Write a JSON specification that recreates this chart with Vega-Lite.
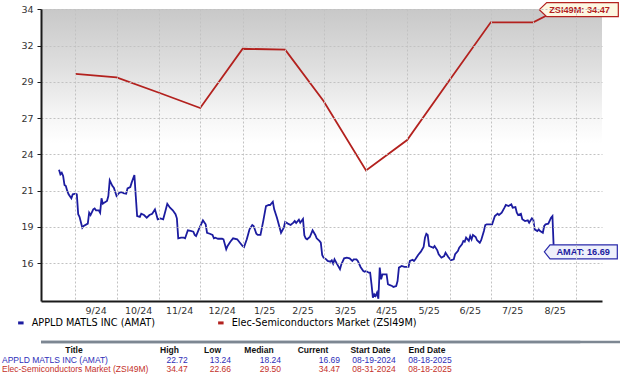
{
  "$schema": "https://vega.github.io/schema/vega-lite/v6.json",
  "background": "white",
  "padding": {"left": 0, "right": 0, "top": 0, "bottom": 0},
  "spacing": 11,
  "resolve": {"scale": {"color": "independent"}, "legend": {"color": "independent"}},
  "config": {
    "view": {"stroke": null},
    "font": "DejaVu Sans",
    "axis": {"labelFont": "DejaVu Sans", "labelFontSize": 9.5, "labelColor": "#333333", "gridColor": "#c2c2c2", "gridDash": [2, 2], "gridWidth": 1, "domainColor": "#1a1a1a", "domainWidth": 2, "tickColor": "#1a1a1a"},
    "legend": {"labelFont": "DejaVu Sans", "labelFontSize": 9.7, "labelLimit": 400},
    "text": {"font": "Liberation Sans", "fontSize": 8.5}
  },
  "datasets": {
    "prices": [
      {"series": "APPLD MATLS INC (AMAT)", "date": "2024-08-19", "value": 22.72},
      {"series": "APPLD MATLS INC (AMAT)", "date": "2024-08-20", "value": 22.38},
      {"series": "APPLD MATLS INC (AMAT)", "date": "2024-08-21", "value": 22.5},
      {"series": "APPLD MATLS INC (AMAT)", "date": "2024-08-22", "value": 22.26},
      {"series": "APPLD MATLS INC (AMAT)", "date": "2024-08-23", "value": 21.6},
      {"series": "APPLD MATLS INC (AMAT)", "date": "2024-08-24", "value": 21.52},
      {"series": "APPLD MATLS INC (AMAT)", "date": "2024-08-25", "value": 21.16},
      {"series": "APPLD MATLS INC (AMAT)", "date": "2024-08-26", "value": 20.91},
      {"series": "APPLD MATLS INC (AMAT)", "date": "2024-08-28", "value": 20.62},
      {"series": "APPLD MATLS INC (AMAT)", "date": "2024-08-29", "value": 20.91},
      {"series": "APPLD MATLS INC (AMAT)", "date": "2024-08-31", "value": 20.96},
      {"series": "APPLD MATLS INC (AMAT)", "date": "2024-09-01", "value": 20.91},
      {"series": "APPLD MATLS INC (AMAT)", "date": "2024-09-02", "value": 19.45},
      {"series": "APPLD MATLS INC (AMAT)", "date": "2024-09-03", "value": 19.25},
      {"series": "APPLD MATLS INC (AMAT)", "date": "2024-09-05", "value": 18.46},
      {"series": "APPLD MATLS INC (AMAT)", "date": "2024-09-06", "value": 18.59},
      {"series": "APPLD MATLS INC (AMAT)", "date": "2024-09-09", "value": 18.76},
      {"series": "APPLD MATLS INC (AMAT)", "date": "2024-09-10", "value": 19.56},
      {"series": "APPLD MATLS INC (AMAT)", "date": "2024-09-11", "value": 19.39},
      {"series": "APPLD MATLS INC (AMAT)", "date": "2024-09-13", "value": 19.81},
      {"series": "APPLD MATLS INC (AMAT)", "date": "2024-09-14", "value": 19.88},
      {"series": "APPLD MATLS INC (AMAT)", "date": "2024-09-15", "value": 19.74},
      {"series": "APPLD MATLS INC (AMAT)", "date": "2024-09-17", "value": 19.74},
      {"series": "APPLD MATLS INC (AMAT)", "date": "2024-09-18", "value": 19.56},
      {"series": "APPLD MATLS INC (AMAT)", "date": "2024-09-19", "value": 20.62},
      {"series": "APPLD MATLS INC (AMAT)", "date": "2024-09-20", "value": 20.22},
      {"series": "APPLD MATLS INC (AMAT)", "date": "2024-09-21", "value": 20.3},
      {"series": "APPLD MATLS INC (AMAT)", "date": "2024-09-23", "value": 20.42},
      {"series": "APPLD MATLS INC (AMAT)", "date": "2024-09-24", "value": 20.79},
      {"series": "APPLD MATLS INC (AMAT)", "date": "2024-09-25", "value": 21.94},
      {"series": "APPLD MATLS INC (AMAT)", "date": "2024-09-27", "value": 21.52},
      {"series": "APPLD MATLS INC (AMAT)", "date": "2024-09-28", "value": 21.4},
      {"series": "APPLD MATLS INC (AMAT)", "date": "2024-09-30", "value": 20.79},
      {"series": "APPLD MATLS INC (AMAT)", "date": "2024-10-02", "value": 21.03},
      {"series": "APPLD MATLS INC (AMAT)", "date": "2024-10-04", "value": 21.08},
      {"series": "APPLD MATLS INC (AMAT)", "date": "2024-10-05", "value": 20.99},
      {"series": "APPLD MATLS INC (AMAT)", "date": "2024-10-07", "value": 20.96},
      {"series": "APPLD MATLS INC (AMAT)", "date": "2024-10-08", "value": 21.35},
      {"series": "APPLD MATLS INC (AMAT)", "date": "2024-10-10", "value": 21.45},
      {"series": "APPLD MATLS INC (AMAT)", "date": "2024-10-11", "value": 21.77},
      {"series": "APPLD MATLS INC (AMAT)", "date": "2024-10-13", "value": 22.33},
      {"series": "APPLD MATLS INC (AMAT)", "date": "2024-10-14", "value": 20.79},
      {"series": "APPLD MATLS INC (AMAT)", "date": "2024-10-15", "value": 19.32},
      {"series": "APPLD MATLS INC (AMAT)", "date": "2024-10-17", "value": 19.25},
      {"series": "APPLD MATLS INC (AMAT)", "date": "2024-10-18", "value": 19.49},
      {"series": "APPLD MATLS INC (AMAT)", "date": "2024-10-20", "value": 19.39},
      {"series": "APPLD MATLS INC (AMAT)", "date": "2024-10-22", "value": 19.2},
      {"series": "APPLD MATLS INC (AMAT)", "date": "2024-10-24", "value": 19.39},
      {"series": "APPLD MATLS INC (AMAT)", "date": "2024-10-26", "value": 19.49},
      {"series": "APPLD MATLS INC (AMAT)", "date": "2024-10-28", "value": 19.81},
      {"series": "APPLD MATLS INC (AMAT)", "date": "2024-10-29", "value": 19.45},
      {"series": "APPLD MATLS INC (AMAT)", "date": "2024-10-30", "value": 19.08},
      {"series": "APPLD MATLS INC (AMAT)", "date": "2024-11-01", "value": 19.15},
      {"series": "APPLD MATLS INC (AMAT)", "date": "2024-11-03", "value": 19.08},
      {"series": "APPLD MATLS INC (AMAT)", "date": "2024-11-04", "value": 19.45},
      {"series": "APPLD MATLS INC (AMAT)", "date": "2024-11-06", "value": 20.22},
      {"series": "APPLD MATLS INC (AMAT)", "date": "2024-11-08", "value": 19.93},
      {"series": "APPLD MATLS INC (AMAT)", "date": "2024-11-10", "value": 19.74},
      {"series": "APPLD MATLS INC (AMAT)", "date": "2024-11-12", "value": 19.45},
      {"series": "APPLD MATLS INC (AMAT)", "date": "2024-11-13", "value": 19.15},
      {"series": "APPLD MATLS INC (AMAT)", "date": "2024-11-14", "value": 17.68},
      {"series": "APPLD MATLS INC (AMAT)", "date": "2024-11-16", "value": 17.73},
      {"series": "APPLD MATLS INC (AMAT)", "date": "2024-11-18", "value": 17.73},
      {"series": "APPLD MATLS INC (AMAT)", "date": "2024-11-19", "value": 17.68},
      {"series": "APPLD MATLS INC (AMAT)", "date": "2024-11-21", "value": 18.27},
      {"series": "APPLD MATLS INC (AMAT)", "date": "2024-11-23", "value": 18.22},
      {"series": "APPLD MATLS INC (AMAT)", "date": "2024-11-25", "value": 18.17},
      {"series": "APPLD MATLS INC (AMAT)", "date": "2024-11-26", "value": 17.93},
      {"series": "APPLD MATLS INC (AMAT)", "date": "2024-11-27", "value": 17.85},
      {"series": "APPLD MATLS INC (AMAT)", "date": "2024-11-29", "value": 18.34},
      {"series": "APPLD MATLS INC (AMAT)", "date": "2024-12-02", "value": 19.0},
      {"series": "APPLD MATLS INC (AMAT)", "date": "2024-12-04", "value": 18.71},
      {"series": "APPLD MATLS INC (AMAT)", "date": "2024-12-05", "value": 18.09},
      {"series": "APPLD MATLS INC (AMAT)", "date": "2024-12-07", "value": 18.02},
      {"series": "APPLD MATLS INC (AMAT)", "date": "2024-12-09", "value": 17.93},
      {"series": "APPLD MATLS INC (AMAT)", "date": "2024-12-10", "value": 17.68},
      {"series": "APPLD MATLS INC (AMAT)", "date": "2024-12-11", "value": 17.73},
      {"series": "APPLD MATLS INC (AMAT)", "date": "2024-12-13", "value": 17.65},
      {"series": "APPLD MATLS INC (AMAT)", "date": "2024-12-16", "value": 17.65},
      {"series": "APPLD MATLS INC (AMAT)", "date": "2024-12-17", "value": 17.61},
      {"series": "APPLD MATLS INC (AMAT)", "date": "2024-12-19", "value": 16.88},
      {"series": "APPLD MATLS INC (AMAT)", "date": "2024-12-20", "value": 17.12},
      {"series": "APPLD MATLS INC (AMAT)", "date": "2024-12-22", "value": 17.43},
      {"series": "APPLD MATLS INC (AMAT)", "date": "2024-12-24", "value": 17.68},
      {"series": "APPLD MATLS INC (AMAT)", "date": "2024-12-27", "value": 17.61},
      {"series": "APPLD MATLS INC (AMAT)", "date": "2024-12-29", "value": 17.36},
      {"series": "APPLD MATLS INC (AMAT)", "date": "2024-12-31", "value": 17.12},
      {"series": "APPLD MATLS INC (AMAT)", "date": "2025-01-01", "value": 17.04},
      {"series": "APPLD MATLS INC (AMAT)", "date": "2025-01-03", "value": 17.61},
      {"series": "APPLD MATLS INC (AMAT)", "date": "2025-01-05", "value": 18.34},
      {"series": "APPLD MATLS INC (AMAT)", "date": "2025-01-07", "value": 18.66},
      {"series": "APPLD MATLS INC (AMAT)", "date": "2025-01-08", "value": 18.59},
      {"series": "APPLD MATLS INC (AMAT)", "date": "2025-01-10", "value": 18.02},
      {"series": "APPLD MATLS INC (AMAT)", "date": "2025-01-11", "value": 17.93},
      {"series": "APPLD MATLS INC (AMAT)", "date": "2025-01-13", "value": 17.93},
      {"series": "APPLD MATLS INC (AMAT)", "date": "2025-01-15", "value": 18.95},
      {"series": "APPLD MATLS INC (AMAT)", "date": "2025-01-17", "value": 20.05},
      {"series": "APPLD MATLS INC (AMAT)", "date": "2025-01-19", "value": 20.13},
      {"series": "APPLD MATLS INC (AMAT)", "date": "2025-01-20", "value": 20.13},
      {"series": "APPLD MATLS INC (AMAT)", "date": "2025-01-22", "value": 20.37},
      {"series": "APPLD MATLS INC (AMAT)", "date": "2025-01-23", "value": 19.81},
      {"series": "APPLD MATLS INC (AMAT)", "date": "2025-01-25", "value": 19.2},
      {"series": "APPLD MATLS INC (AMAT)", "date": "2025-01-28", "value": 18.09},
      {"series": "APPLD MATLS INC (AMAT)", "date": "2025-01-30", "value": 18.46},
      {"series": "APPLD MATLS INC (AMAT)", "date": "2025-01-31", "value": 18.88},
      {"series": "APPLD MATLS INC (AMAT)", "date": "2025-02-02", "value": 18.76},
      {"series": "APPLD MATLS INC (AMAT)", "date": "2025-02-04", "value": 18.66},
      {"series": "APPLD MATLS INC (AMAT)", "date": "2025-02-06", "value": 18.83},
      {"series": "APPLD MATLS INC (AMAT)", "date": "2025-02-07", "value": 18.95},
      {"series": "APPLD MATLS INC (AMAT)", "date": "2025-02-08", "value": 18.81},
      {"series": "APPLD MATLS INC (AMAT)", "date": "2025-02-10", "value": 19.05},
      {"series": "APPLD MATLS INC (AMAT)", "date": "2025-02-11", "value": 18.83},
      {"series": "APPLD MATLS INC (AMAT)", "date": "2025-02-13", "value": 19.1},
      {"series": "APPLD MATLS INC (AMAT)", "date": "2025-02-14", "value": 17.9},
      {"series": "APPLD MATLS INC (AMAT)", "date": "2025-02-15", "value": 17.68},
      {"series": "APPLD MATLS INC (AMAT)", "date": "2025-02-16", "value": 17.61},
      {"series": "APPLD MATLS INC (AMAT)", "date": "2025-02-18", "value": 17.78},
      {"series": "APPLD MATLS INC (AMAT)", "date": "2025-02-20", "value": 18.27},
      {"series": "APPLD MATLS INC (AMAT)", "date": "2025-02-22", "value": 17.93},
      {"series": "APPLD MATLS INC (AMAT)", "date": "2025-02-23", "value": 17.68},
      {"series": "APPLD MATLS INC (AMAT)", "date": "2025-02-25", "value": 17.49},
      {"series": "APPLD MATLS INC (AMAT)", "date": "2025-02-26", "value": 17.36},
      {"series": "APPLD MATLS INC (AMAT)", "date": "2025-02-27", "value": 16.46},
      {"series": "APPLD MATLS INC (AMAT)", "date": "2025-02-28", "value": 16.26},
      {"series": "APPLD MATLS INC (AMAT)", "date": "2025-03-02", "value": 16.14},
      {"series": "APPLD MATLS INC (AMAT)", "date": "2025-03-03", "value": 16.02},
      {"series": "APPLD MATLS INC (AMAT)", "date": "2025-03-05", "value": 15.97},
      {"series": "APPLD MATLS INC (AMAT)", "date": "2025-03-06", "value": 16.07},
      {"series": "APPLD MATLS INC (AMAT)", "date": "2025-03-07", "value": 15.82},
      {"series": "APPLD MATLS INC (AMAT)", "date": "2025-03-08", "value": 16.14},
      {"series": "APPLD MATLS INC (AMAT)", "date": "2025-03-10", "value": 15.77},
      {"series": "APPLD MATLS INC (AMAT)", "date": "2025-03-12", "value": 15.41},
      {"series": "APPLD MATLS INC (AMAT)", "date": "2025-03-13", "value": 15.77},
      {"series": "APPLD MATLS INC (AMAT)", "date": "2025-03-15", "value": 16.21},
      {"series": "APPLD MATLS INC (AMAT)", "date": "2025-03-17", "value": 16.26},
      {"series": "APPLD MATLS INC (AMAT)", "date": "2025-03-19", "value": 16.21},
      {"series": "APPLD MATLS INC (AMAT)", "date": "2025-03-21", "value": 16.02},
      {"series": "APPLD MATLS INC (AMAT)", "date": "2025-03-22", "value": 16.14},
      {"series": "APPLD MATLS INC (AMAT)", "date": "2025-03-24", "value": 16.14},
      {"series": "APPLD MATLS INC (AMAT)", "date": "2025-03-25", "value": 16.02},
      {"series": "APPLD MATLS INC (AMAT)", "date": "2025-03-27", "value": 15.58},
      {"series": "APPLD MATLS INC (AMAT)", "date": "2025-03-29", "value": 15.28},
      {"series": "APPLD MATLS INC (AMAT)", "date": "2025-03-30", "value": 15.23},
      {"series": "APPLD MATLS INC (AMAT)", "date": "2025-03-31", "value": 15.28},
      {"series": "APPLD MATLS INC (AMAT)", "date": "2025-04-02", "value": 15.16},
      {"series": "APPLD MATLS INC (AMAT)", "date": "2025-04-03", "value": 15.16},
      {"series": "APPLD MATLS INC (AMAT)", "date": "2025-04-04", "value": 14.31},
      {"series": "APPLD MATLS INC (AMAT)", "date": "2025-04-05", "value": 13.32},
      {"series": "APPLD MATLS INC (AMAT)", "date": "2025-04-06", "value": 13.57},
      {"series": "APPLD MATLS INC (AMAT)", "date": "2025-04-07", "value": 13.45},
      {"series": "APPLD MATLS INC (AMAT)", "date": "2025-04-08", "value": 13.69},
      {"series": "APPLD MATLS INC (AMAT)", "date": "2025-04-09", "value": 13.24},
      {"series": "APPLD MATLS INC (AMAT)", "date": "2025-04-10", "value": 15.53},
      {"series": "APPLD MATLS INC (AMAT)", "date": "2025-04-11", "value": 14.67},
      {"series": "APPLD MATLS INC (AMAT)", "date": "2025-04-12", "value": 15.04},
      {"series": "APPLD MATLS INC (AMAT)", "date": "2025-04-13", "value": 15.04},
      {"series": "APPLD MATLS INC (AMAT)", "date": "2025-04-15", "value": 15.04},
      {"series": "APPLD MATLS INC (AMAT)", "date": "2025-04-16", "value": 14.31},
      {"series": "APPLD MATLS INC (AMAT)", "date": "2025-04-17", "value": 14.26},
      {"series": "APPLD MATLS INC (AMAT)", "date": "2025-04-19", "value": 14.18},
      {"series": "APPLD MATLS INC (AMAT)", "date": "2025-04-20", "value": 14.11},
      {"series": "APPLD MATLS INC (AMAT)", "date": "2025-04-22", "value": 14.18},
      {"series": "APPLD MATLS INC (AMAT)", "date": "2025-04-23", "value": 14.55},
      {"series": "APPLD MATLS INC (AMAT)", "date": "2025-04-24", "value": 15.53},
      {"series": "APPLD MATLS INC (AMAT)", "date": "2025-04-26", "value": 15.65},
      {"series": "APPLD MATLS INC (AMAT)", "date": "2025-04-28", "value": 15.58},
      {"series": "APPLD MATLS INC (AMAT)", "date": "2025-04-30", "value": 15.58},
      {"series": "APPLD MATLS INC (AMAT)", "date": "2025-05-01", "value": 15.58},
      {"series": "APPLD MATLS INC (AMAT)", "date": "2025-05-02", "value": 16.02},
      {"series": "APPLD MATLS INC (AMAT)", "date": "2025-05-04", "value": 16.11},
      {"series": "APPLD MATLS INC (AMAT)", "date": "2025-05-05", "value": 16.02},
      {"series": "APPLD MATLS INC (AMAT)", "date": "2025-05-06", "value": 16.14},
      {"series": "APPLD MATLS INC (AMAT)", "date": "2025-05-08", "value": 16.46},
      {"series": "APPLD MATLS INC (AMAT)", "date": "2025-05-10", "value": 16.7},
      {"series": "APPLD MATLS INC (AMAT)", "date": "2025-05-12", "value": 17.04},
      {"series": "APPLD MATLS INC (AMAT)", "date": "2025-05-13", "value": 17.73},
      {"series": "APPLD MATLS INC (AMAT)", "date": "2025-05-14", "value": 18.02},
      {"series": "APPLD MATLS INC (AMAT)", "date": "2025-05-15", "value": 17.93},
      {"series": "APPLD MATLS INC (AMAT)", "date": "2025-05-16", "value": 17.12},
      {"series": "APPLD MATLS INC (AMAT)", "date": "2025-05-18", "value": 17.04},
      {"series": "APPLD MATLS INC (AMAT)", "date": "2025-05-19", "value": 16.99},
      {"series": "APPLD MATLS INC (AMAT)", "date": "2025-05-20", "value": 17.12},
      {"series": "APPLD MATLS INC (AMAT)", "date": "2025-05-22", "value": 16.8},
      {"series": "APPLD MATLS INC (AMAT)", "date": "2025-05-23", "value": 16.51},
      {"series": "APPLD MATLS INC (AMAT)", "date": "2025-05-25", "value": 16.26},
      {"series": "APPLD MATLS INC (AMAT)", "date": "2025-05-27", "value": 16.38},
      {"series": "APPLD MATLS INC (AMAT)", "date": "2025-05-28", "value": 16.63},
      {"series": "APPLD MATLS INC (AMAT)", "date": "2025-05-30", "value": 16.31},
      {"series": "APPLD MATLS INC (AMAT)", "date": "2025-06-01", "value": 16.07},
      {"series": "APPLD MATLS INC (AMAT)", "date": "2025-06-03", "value": 16.14},
      {"series": "APPLD MATLS INC (AMAT)", "date": "2025-06-04", "value": 16.51},
      {"series": "APPLD MATLS INC (AMAT)", "date": "2025-06-06", "value": 16.75},
      {"series": "APPLD MATLS INC (AMAT)", "date": "2025-06-07", "value": 16.99},
      {"series": "APPLD MATLS INC (AMAT)", "date": "2025-06-09", "value": 17.24},
      {"series": "APPLD MATLS INC (AMAT)", "date": "2025-06-10", "value": 17.49},
      {"series": "APPLD MATLS INC (AMAT)", "date": "2025-06-11", "value": 17.43},
      {"series": "APPLD MATLS INC (AMAT)", "date": "2025-06-12", "value": 17.73},
      {"series": "APPLD MATLS INC (AMAT)", "date": "2025-06-14", "value": 17.49},
      {"series": "APPLD MATLS INC (AMAT)", "date": "2025-06-15", "value": 17.85},
      {"series": "APPLD MATLS INC (AMAT)", "date": "2025-06-16", "value": 17.61},
      {"series": "APPLD MATLS INC (AMAT)", "date": "2025-06-17", "value": 17.93},
      {"series": "APPLD MATLS INC (AMAT)", "date": "2025-06-19", "value": 17.78},
      {"series": "APPLD MATLS INC (AMAT)", "date": "2025-06-20", "value": 17.54},
      {"series": "APPLD MATLS INC (AMAT)", "date": "2025-06-22", "value": 17.36},
      {"series": "APPLD MATLS INC (AMAT)", "date": "2025-06-23", "value": 17.54},
      {"series": "APPLD MATLS INC (AMAT)", "date": "2025-06-25", "value": 18.22},
      {"series": "APPLD MATLS INC (AMAT)", "date": "2025-06-26", "value": 18.66},
      {"series": "APPLD MATLS INC (AMAT)", "date": "2025-06-27", "value": 18.71},
      {"series": "APPLD MATLS INC (AMAT)", "date": "2025-06-30", "value": 18.71},
      {"series": "APPLD MATLS INC (AMAT)", "date": "2025-07-01", "value": 18.71},
      {"series": "APPLD MATLS INC (AMAT)", "date": "2025-07-03", "value": 19.32},
      {"series": "APPLD MATLS INC (AMAT)", "date": "2025-07-05", "value": 19.49},
      {"series": "APPLD MATLS INC (AMAT)", "date": "2025-07-06", "value": 19.39},
      {"series": "APPLD MATLS INC (AMAT)", "date": "2025-07-08", "value": 19.56},
      {"series": "APPLD MATLS INC (AMAT)", "date": "2025-07-10", "value": 19.93},
      {"series": "APPLD MATLS INC (AMAT)", "date": "2025-07-11", "value": 20.13},
      {"series": "APPLD MATLS INC (AMAT)", "date": "2025-07-13", "value": 20.05},
      {"series": "APPLD MATLS INC (AMAT)", "date": "2025-07-15", "value": 20.18},
      {"series": "APPLD MATLS INC (AMAT)", "date": "2025-07-16", "value": 19.93},
      {"series": "APPLD MATLS INC (AMAT)", "date": "2025-07-18", "value": 19.98},
      {"series": "APPLD MATLS INC (AMAT)", "date": "2025-07-19", "value": 19.56},
      {"series": "APPLD MATLS INC (AMAT)", "date": "2025-07-20", "value": 19.39},
      {"series": "APPLD MATLS INC (AMAT)", "date": "2025-07-22", "value": 19.49},
      {"series": "APPLD MATLS INC (AMAT)", "date": "2025-07-23", "value": 19.08},
      {"series": "APPLD MATLS INC (AMAT)", "date": "2025-07-25", "value": 18.95},
      {"series": "APPLD MATLS INC (AMAT)", "date": "2025-07-27", "value": 19.0},
      {"series": "APPLD MATLS INC (AMAT)", "date": "2025-07-28", "value": 18.83},
      {"series": "APPLD MATLS INC (AMAT)", "date": "2025-07-30", "value": 19.15},
      {"series": "APPLD MATLS INC (AMAT)", "date": "2025-07-31", "value": 19.08},
      {"series": "APPLD MATLS INC (AMAT)", "date": "2025-08-01", "value": 18.34},
      {"series": "APPLD MATLS INC (AMAT)", "date": "2025-08-03", "value": 18.22},
      {"series": "APPLD MATLS INC (AMAT)", "date": "2025-08-04", "value": 18.34},
      {"series": "APPLD MATLS INC (AMAT)", "date": "2025-08-05", "value": 18.22},
      {"series": "APPLD MATLS INC (AMAT)", "date": "2025-08-07", "value": 18.09},
      {"series": "APPLD MATLS INC (AMAT)", "date": "2025-08-08", "value": 18.59},
      {"series": "APPLD MATLS INC (AMAT)", "date": "2025-08-09", "value": 18.71},
      {"series": "APPLD MATLS INC (AMAT)", "date": "2025-08-11", "value": 18.76},
      {"series": "APPLD MATLS INC (AMAT)", "date": "2025-08-13", "value": 19.2},
      {"series": "APPLD MATLS INC (AMAT)", "date": "2025-08-14", "value": 19.32},
      {"series": "APPLD MATLS INC (AMAT)", "date": "2025-08-15", "value": 16.8},
      {"series": "APPLD MATLS INC (AMAT)", "date": "2025-08-18", "value": 16.69},
      {"series": "Elec-Semiconductors Market (ZSI49M)", "date": "2024-08-31", "value": 29.75},
      {"series": "Elec-Semiconductors Market (ZSI49M)", "date": "2024-09-30", "value": 29.5},
      {"series": "Elec-Semiconductors Market (ZSI49M)", "date": "2024-10-31", "value": 28.37},
      {"series": "Elec-Semiconductors Market (ZSI49M)", "date": "2024-11-30", "value": 27.25},
      {"series": "Elec-Semiconductors Market (ZSI49M)", "date": "2024-12-31", "value": 31.6},
      {"series": "Elec-Semiconductors Market (ZSI49M)", "date": "2025-01-31", "value": 31.53},
      {"series": "Elec-Semiconductors Market (ZSI49M)", "date": "2025-02-28", "value": 27.76},
      {"series": "Elec-Semiconductors Market (ZSI49M)", "date": "2025-03-31", "value": 22.66},
      {"series": "Elec-Semiconductors Market (ZSI49M)", "date": "2025-04-30", "value": 24.9},
      {"series": "Elec-Semiconductors Market (ZSI49M)", "date": "2025-05-31", "value": 29.3},
      {"series": "Elec-Semiconductors Market (ZSI49M)", "date": "2025-06-30", "value": 33.54},
      {"series": "Elec-Semiconductors Market (ZSI49M)", "date": "2025-07-31", "value": 33.54},
      {"series": "Elec-Semiconductors Market (ZSI49M)", "date": "2025-08-18", "value": 34.47}
    ],
    "callouts": [
      {"series": "APPLD MATLS INC (AMAT)", "date": "2025-08-18", "value": 16.69, "label": "AMAT: 16.69"},
      {"series": "Elec-Semiconductors Market (ZSI49M)", "date": "2025-08-18", "value": 34.47, "label": "ZSI49M: 34.47"}
    ],
    "table": [
      {"row": "header", "col": "Title", "text": "Title"},
      {"row": "header", "col": "High", "text": "High"},
      {"row": "header", "col": "Low", "text": "Low"},
      {"row": "header", "col": "Median", "text": "Median"},
      {"row": "header", "col": "Current", "text": "Current"},
      {"row": "header", "col": "Start Date", "text": "Start Date"},
      {"row": "header", "col": "End Date", "text": "End Date"},
      {"row": "AMAT", "col": "Title", "text": "APPLD MATLS INC (AMAT)"},
      {"row": "AMAT", "col": "High", "text": "22.72"},
      {"row": "AMAT", "col": "Low", "text": "13.24"},
      {"row": "AMAT", "col": "Median", "text": "18.24"},
      {"row": "AMAT", "col": "Current", "text": "16.69"},
      {"row": "AMAT", "col": "Start Date", "text": "08-19-2024"},
      {"row": "AMAT", "col": "End Date", "text": "08-18-2025"},
      {"row": "ZSI49M", "col": "Title", "text": "Elec-Semiconductors Market (ZSI49M)"},
      {"row": "ZSI49M", "col": "High", "text": "34.47"},
      {"row": "ZSI49M", "col": "Low", "text": "22.66"},
      {"row": "ZSI49M", "col": "Median", "text": "29.50"},
      {"row": "ZSI49M", "col": "Current", "text": "34.47"},
      {"row": "ZSI49M", "col": "Start Date", "text": "08-31-2024"},
      {"row": "ZSI49M", "col": "End Date", "text": "08-18-2025"}
    ]
  },
  "vconcat": [
    {
      "width": 561,
      "height": 292,
      "layer": [
        {
          "data": {"name": "callouts"},
          "transform": [{"filter": "datum.label === 'AMAT: 16.69'"}],
          "mark": {"type": "rect", "fill": {"gradient": "linear", "x1": 0, "y1": 0, "x2": 0, "y2": 1, "stops": [{"offset": 0, "color": "#c8c8c8"}, {"offset": 0.2, "color": "#dfdfdf"}, {"offset": 0.36, "color": "#f5f5f5"}, {"offset": 0.46, "color": "#ffffff"}, {"offset": 1, "color": "#ffffff"}]}},
          "encoding": {}
        },
        {
          "data": {"name": "prices"},
          "mark": {"type": "line", "strokeWidth": 1.8},
          "encoding": {
            "x": {"field": "date", "type": "temporal",
              "scale": {"type": "utc", "domain": ["2024-08-05T20:40:00Z", "2025-09-19T03:50:00Z"], "nice": false},
              "axis": {"title": null, "grid": true, "zindex": 1, "ticks": false, "labelPadding": 4, "labelOffset": -21, "labelOverlap": false, "labelFlush": false, "labelBound": false,
                "values": [
                  {"year": 2024, "month": 8, "date": 31, "utc": true},
                  {"year": 2024, "month": 9, "date": 30, "utc": true},
                  {"year": 2024, "month": 10, "date": 31, "utc": true},
                  {"year": 2024, "month": 11, "date": 30, "utc": true},
                  {"year": 2024, "month": 12, "date": 31, "utc": true},
                  {"year": 2025, "month": 1, "date": 31, "utc": true},
                  {"year": 2025, "month": 2, "date": 28, "utc": true},
                  {"year": 2025, "month": 3, "date": 31, "utc": true},
                  {"year": 2025, "month": 4, "date": 30, "utc": true},
                  {"year": 2025, "month": 5, "date": 31, "utc": true},
                  {"year": 2025, "month": 6, "date": 30, "utc": true},
                  {"year": 2025, "month": 7, "date": 31, "utc": true},
                  {"year": 2025, "month": 8, "date": 31, "utc": true}
                ],
                "labelExpr": "datum.value < utc(2024, 8, 15) ? '' : utcFormat(datum.value, '%-m/%y')"}},
            "y": {"field": "value", "type": "quantitative",
              "scale": {"domain": [13.08, 34.52], "nice": false, "zero": false},
              "axis": {"title": null, "grid": true, "zindex": 1, "tickSize": 4, "labelPadding": 4, "format": ".0f", "minExtent": 41, "maxExtent": 41,
                "values": [15.87, 18.53, 21.19, 23.85, 26.51, 29.17, 31.83, 34.49]}},
            "color": {"field": "series", "type": "nominal",
              "scale": {"domain": ["APPLD MATLS INC (AMAT)", "Elec-Semiconductors Market (ZSI49M)"], "range": ["#1c1ca0", "#b3211e"]},
              "legend": {"title": null, "orient": "none", "legendX": -25, "legendY": 309, "direction": "horizontal",
                "symbolType": "stroke", "symbolSize": 30, "symbolStrokeWidth": 3, "labelOffset": 6, "columnPadding": 56,
                "encoding": {"labels": {"update": {"fill": {"signal": "datum.value === 'APPLD MATLS INC (AMAT)' ? '#3838b5' : '#c23a30'"}}}}}}
          }
        },
        {
          "data": {"name": "callouts"},
          "mark": {"type": "point", "filled": true, "opacity": 1, "size": 10000, "strokeWidth": 1.2},
          "encoding": {
            "x": {"field": "date", "type": "temporal"},
            "y": {"field": "value", "type": "quantitative"},
            "shape": {"field": "series", "type": "nominal", "legend": null,
              "scale": {"domain": ["APPLD MATLS INC (AMAT)", "Elec-Semiconductors Market (ZSI49M)"],
                "range": ["M-0.272,0L-0.158,-0.14L1.188,-0.14L1.188,0.14L-0.158,0.14Z", "M-0.372,0L-0.224,-0.14L1.208,-0.14L1.208,0.14L-0.224,0.14Z"]}},
            "fill": {"field": "series", "type": "nominal", "legend": null,
              "scale": {"domain": ["APPLD MATLS INC (AMAT)", "Elec-Semiconductors Market (ZSI49M)"], "range": ["#eef0fb", "#fdf8e2"]}},
            "stroke": {"field": "series", "type": "nominal", "legend": null,
              "scale": {"domain": ["APPLD MATLS INC (AMAT)", "Elec-Semiconductors Market (ZSI49M)"], "range": ["#2a2aaa", "#b3211e"]}}
          }
        },
        {
          "data": {"name": "callouts"},
          "mark": {"type": "text", "align": "right", "dx": 52, "font": "Liberation Sans", "fontSize": 9.2, "fontWeight": "bold"},
          "encoding": {
            "x": {"field": "date", "type": "temporal"},
            "y": {"field": "value", "type": "quantitative"},
            "text": {"field": "label"},
            "color": {"field": "series", "type": "nominal"}
          }
        }
      ]
    },
    {
      "width": 579,
      "height": 29,
      "data": {"name": "table"},
      "encoding": {
        "y": {"field": "row", "type": "nominal",
          "scale": {"type": "band", "domain": ["header", "AMAT", "ZSI49M"], "paddingInner": 0, "paddingOuter": 0},
          "axis": null}
      },
      "layer": [
        {"transform": [{"filter": "datum.row === 'header' && datum.col === 'Title'"}], "mark": {"type": "rule", "color": "#7d8792", "strokeWidth": 2.5, "xOffset": -39.75},
         "encoding": {"y": {"field": "row", "type": "nominal", "bandPosition": -0.3}}},
        {"transform": [{"filter": "datum.row === 'header' && datum.col === 'Title'"}], "mark": {"type": "rule", "color": "#7d8792", "strokeWidth": 2.5},
         "encoding": {"y": {"field": "row", "type": "nominal", "bandPosition": -0.3}}},
        {"transform": [{"filter": "datum.row === 'header' && datum.col === 'Title'"}], "mark": {"type": "text", "fontWeight": "bold", "color": "#111111", "dx": -256.5}, "encoding": {"text": {"field": "text"}}},
        {"transform": [{"filter": "datum.row === 'header' && datum.col === 'High'"}], "mark": {"type": "text", "fontWeight": "bold", "color": "#111111", "dx": -161}, "encoding": {"text": {"field": "text"}}},
        {"transform": [{"filter": "datum.row === 'header' && datum.col === 'Low'"}], "mark": {"type": "text", "fontWeight": "bold", "color": "#111111", "dx": -118}, "encoding": {"text": {"field": "text"}}},
        {"transform": [{"filter": "datum.row === 'header' && datum.col === 'Median'"}], "mark": {"type": "text", "fontWeight": "bold", "color": "#111111", "dx": -71.5}, "encoding": {"text": {"field": "text"}}},
        {"transform": [{"filter": "datum.row === 'header' && datum.col === 'Current'"}], "mark": {"type": "text", "fontWeight": "bold", "color": "#111111", "dx": -17.5}, "encoding": {"text": {"field": "text"}}},
        {"transform": [{"filter": "datum.row === 'header' && datum.col === 'Start Date'"}], "mark": {"type": "text", "fontWeight": "bold", "color": "#111111", "dx": 40}, "encoding": {"text": {"field": "text"}}},
        {"transform": [{"filter": "datum.row === 'header' && datum.col === 'End Date'"}], "mark": {"type": "text", "fontWeight": "bold", "color": "#111111", "dx": 96.5}, "encoding": {"text": {"field": "text"}}},
        {"transform": [{"filter": "datum.row !== 'header' && datum.col === 'Title'"}], "mark": {"type": "text", "align": "left", "dx": -328.5},
         "encoding": {"text": {"field": "text"}, "color": {"field": "row", "type": "nominal", "scale": {"domain": ["AMAT", "ZSI49M"], "range": ["#2e2eb8", "#c4302a"]}, "legend": null}}},
        {"transform": [{"filter": "datum.row !== 'header' && datum.col === 'High'"}], "mark": {"type": "text", "align": "right", "dx": -142.8},
         "encoding": {"text": {"field": "text"}, "color": {"field": "row", "type": "nominal", "legend": null}}},
        {"transform": [{"filter": "datum.row !== 'header' && datum.col === 'Low'"}], "mark": {"type": "text", "align": "right", "dx": -99.5},
         "encoding": {"text": {"field": "text"}, "color": {"field": "row", "type": "nominal", "legend": null}}},
        {"transform": [{"filter": "datum.row !== 'header' && datum.col === 'Median'"}], "mark": {"type": "text", "align": "right", "dx": -49.5},
         "encoding": {"text": {"field": "text"}, "color": {"field": "row", "type": "nominal", "legend": null}}},
        {"transform": [{"filter": "datum.row !== 'header' && datum.col === 'Current'"}], "mark": {"type": "text", "align": "right", "dx": 9.5},
         "encoding": {"text": {"field": "text"}, "color": {"field": "row", "type": "nominal", "legend": null}}},
        {"transform": [{"filter": "datum.row !== 'header' && datum.col === 'Start Date'"}], "mark": {"type": "text", "align": "right", "dx": 65.2},
         "encoding": {"text": {"field": "text"}, "color": {"field": "row", "type": "nominal", "legend": null}}},
        {"transform": [{"filter": "datum.row !== 'header' && datum.col === 'End Date'"}], "mark": {"type": "text", "align": "right", "dx": 121.2},
         "encoding": {"text": {"field": "text"}, "color": {"field": "row", "type": "nominal", "legend": null}}}
      ]
    }
  ]
}
